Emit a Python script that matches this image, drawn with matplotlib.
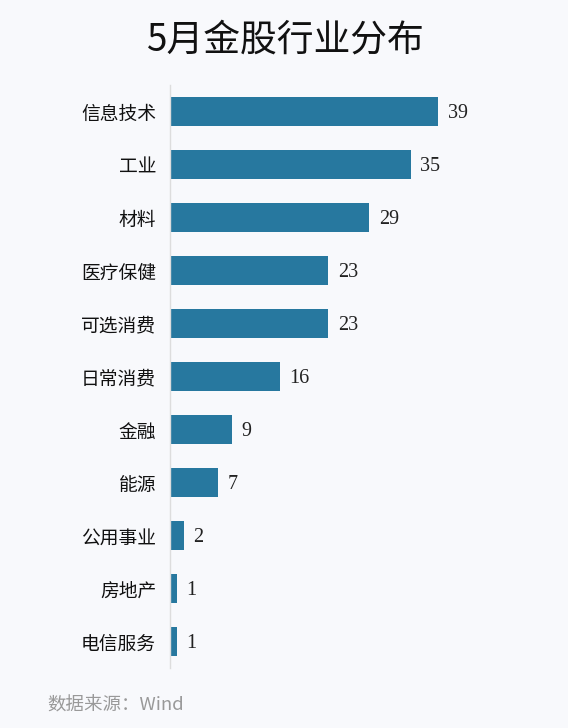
import matplotlib
matplotlib.use("Agg")
import matplotlib.pyplot as plt

plt.rcParams['font.family'] = ['Noto Sans CJK SC', 'DejaVu Sans']

categories = ["信息技术", "工业", "材料", "医疗保健", "可选消费", "日常消费",
              "金融", "能源", "公用事业", "房地产", "电信服务"]
values = [39, 35, 29, 23, 23, 16, 9, 7, 2, 1, 1]
title = "5月金股行业分布"
source = "数据来源：Wind"

bg = '#f8f9fc'
bar_color = '#27789f'

fig = plt.figure(figsize=(5.68, 7.28), dpi=100, facecolor=bg)
ax = fig.add_axes([170/568, 1-668/728, 378/568, (668-85)/728])
ax.set_facecolor(bg)

y = list(range(len(categories)))
ax.barh(y, values, height=0.53, color=bar_color, zorder=2)
ax.set_ylim(10.5, -0.5)
ax.set_xlim(0, 55)

ax.set_yticks(y)
ax.set_yticklabels(categories, fontsize=13.5, color='#111111')
ax.tick_params(axis='y', length=0, pad=10)
ax.set_xticks([])

for s in ['top', 'right', 'bottom']:
    ax.spines[s].set_visible(False)
ax.spines['left'].set_color('#dddddd')
ax.spines['left'].set_linewidth(1.0)

for yi, v in zip(y, values):
    ax.annotate(str(v), xy=(v, yi), xytext=(7, -1.5), textcoords='offset points',
                ha='left', va='center', fontsize=14.5, color='#222222',
                family='Liberation Serif')

fig.text(286/568, 1-40/728, title, ha='center', va='center', fontsize=26.5, color='#111111')
fig.text(47/568, 1-706/728, source, ha='left', va='center', fontsize=13.3, color='#999999')

fig.savefig('out.png', dpi=100, facecolor=bg)
